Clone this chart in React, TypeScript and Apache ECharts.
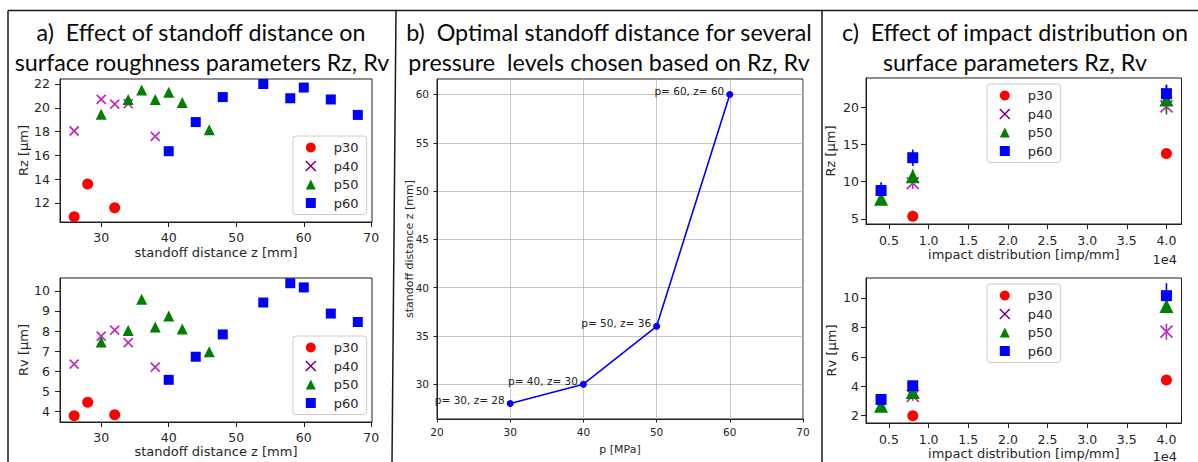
import React, { useEffect, useRef } from "react";
import * as echarts from "echarts";

// ---------- panel a: standoff distance z [mm] vs Rz / Rv [µm] ----------
const p30Z = [26, 28, 32];
const p30Rz = [10.85, 13.6, 11.6];
const p30Rv = [3.78, 4.45, 3.83];
const p40Z = [26, 30, 32, 34, 38];
const p40Rz = [18.05, 20.7, 20.3, 20.35, 17.6];
const p40Rv = [6.35, 7.75, 8.05, 7.42, 6.2];
const p50Z = [30, 34, 36, 38, 40, 42, 46];
const p50Rz = [19.45, 20.7, 21.5, 20.7, 21.3, 20.45, 18.15];
const p50Rv = [7.45, 8.02, 9.58, 8.2, 8.75, 8.1, 6.97];
const p60Z = [40, 44, 48, 54, 58, 60, 64, 68];
const p60Rz = [16.35, 18.8, 20.9, 22.0, 20.8, 21.7, 20.7, 19.4];
const p60Rv = [5.57, 6.72, 7.83, 9.42, 10.38, 10.17, 8.87, 8.45];

// ---------- panel b: optimal standoff distance ----------
const optP = [30, 40, 50, 60];
const optZ = [28, 30, 36, 60];

// ---------- panel c: impact distribution [imp/mm] ----------
const impP30 = [8000, 40000];
const impP30Rz = [5.35, 13.75];
const impP30RzErr = [0.3, 0.3];
const impP30Rv = [2.0, 4.42];
const impP30RvErr = [0.1, 0.2];
const impP40 = [8000, 40000];
const impP40Rz = [9.8, 20.1];
const impP40RzErr = [0.8, 0.6];
const impP40Rv = [3.35, 7.7];
const impP40RvErr = [0.35, 0.55];
const impP50 = [4000, 8000, 40000];
const impP50Rz = [7.7, 10.7, 21.0];
const impP50RzErr = [0.4, 0.9, 2.0];
const impP50Rv = [2.68, 3.6, 9.45];
const impP50RvErr = [0.15, 0.3, 0.4];
const impP60 = [4000, 8000, 40000];
const impP60Rz = [8.8, 13.2, 21.8];
const impP60RzErr = [1.1, 1.1, 1.2];
const impP60Rv = [3.1, 4.03, 10.15];
const impP60RvErr = [0.25, 0.3, 0.85];

// ---------- tick labels ----------
const zTicks = [30, 40, 50, 60, 70];
const rzTicksA = [12, 14, 16, 18, 20, 22];
const rvTicksA = [4, 5, 6, 7, 8, 9, 10];
const pTicksB = [20, 30, 40, 50, 60, 70];
const zTicksB = [30, 35, 40, 45, 50, 55, 60];
const impTicks = [5000, 10000, 15000, 20000, 25000, 30000, 35000, 40000];
const rzTicksC = [5, 10, 15, 20];
const rvTicksC = [2, 4, 6, 8, 10];

const legendNames = ["p30", "p40", "p50", "p60"];

const RED = "#ff0000";
const MAG = "#c030c0";
const PURPLE = "#800080";
const GREEN = "#008000";
const BLUE = "#0000ff";
const X_PATH = "path://M0,0L10,10M10,0L0,10";
const FONT = "DejaVu Sans";
const TXT = "#262626";
const AX = "#1f1f1f";

function mkAxis(gi: number, min: number, max: number, ticks: number[], name: string, o: any) {
  return {
    type: "value",
    gridIndex: gi,
    min,
    max,
    name,
    nameLocation: "middle",
    nameGap: o.nameGap,
    nameMoveOverlap: false,
    nameTextStyle: { fontFamily: FONT, fontSize: o.nameSize, color: TXT },
    axisLine: { show: true, onZero: false, lineStyle: { color: AX, width: 1 } },
    axisTick: { show: true, length: o.tick, customValues: ticks, lineStyle: { color: AX, width: 1 } },
    axisLabel: {
      customValues: ticks,
      margin: o.margin,
      fontFamily: FONT,
      fontSize: o.size,
      color: TXT,
      formatter: o.fmt,
    },
    splitLine: { show: !!o.grid, lineStyle: { color: "#b8b8b8", width: 0.8 } },
  };
}

function scat(name: string, xs: number[], ys: number[], symbol: string, size: number, color: string, idx: number) {
  const isX = symbol === X_PATH;
  return {
    type: "scatter",
    name,
    xAxisIndex: idx,
    yAxisIndex: idx,
    data: xs.map((x, i) => [x, ys[i]]),
    symbol,
    symbolSize: size,
    itemStyle: isX
      ? { color, borderColor: color, borderWidth: 1.8, opacity: 1 }
      : { color, opacity: 1 },
    emphasis: { disabled: true },
    silent: true,
  };
}

function errBars(name: string, xs: number[], ys: number[], errs: number[], color: string, idx: number) {
  return {
    type: "custom",
    name: name + " err",
    xAxisIndex: idx,
    yAxisIndex: idx,
    data: xs.map((x, i) => [x, ys[i] - errs[i], ys[i] + errs[i]]),
    encode: { x: 0, y: [1, 2] },
    silent: true,
    renderItem: (_params: any, api: any) => {
      const a = api.coord([api.value(0), api.value(1)]);
      const b = api.coord([api.value(0), api.value(2)]);
      return {
        type: "line",
        shape: { x1: a[0], y1: a[1], x2: b[0], y2: b[1] },
        style: { stroke: color, lineWidth: 1.6 },
      };
    },
  };
}

const legendItems = [
  { name: "p30", icon: "circle", itemStyle: { color: RED } },
  { name: "p40", icon: X_PATH, itemStyle: { color: PURPLE, borderColor: PURPLE, borderWidth: 1.6 } },
  { name: "p50", icon: "triangle", itemStyle: { color: GREEN } },
  { name: "p60", icon: "rect", itemStyle: { color: BLUE } },
];

function mkLegend(left: number, top: number) {
  return {
    left,
    top,
    orient: "vertical",
    itemWidth: 10,
    itemHeight: 10,
    itemGap: 5.5,
    selectedMode: false,
    backgroundColor: "rgba(255,255,255,0.85)",
    borderColor: "#cccccc",
    borderWidth: 1,
    borderRadius: 3,
    padding: [5, 8, 5, 12],
    textStyle: { fontFamily: FONT, fontSize: 13, color: TXT, padding: [0, 0, 0, 13] },
    data: legendItems.filter((d) => legendNames.includes(d.name)),
  };
}

const fmtImp = (v: number) => (v / 1e4).toFixed(1);

const frame = { stroke: "#1a1a1a", lineWidth: 1.5 };
const TITLE_FONT = "Lato";

function title(x: number, y: number, text: string) {
  return {
    type: "text",
    x,
    y,
    style: {
      text,
      align: "center",
      verticalAlign: "middle",
      fontFamily: TITLE_FONT,
      fontSize: 23.3,
      fill: "#0a0a0a",
    },
    silent: true,
  };
}

const option: any = {
  animation: false,
  backgroundColor: "#ffffff",
  grid: [
    { left: 60, top: 79, width: 312, height: 143 },
    { left: 60, top: 278, width: 312, height: 144 },
    { left: 437, top: 79, width: 366, height: 340 },
    { left: 866, top: 78, width: 315.5, height: 146 },
    { left: 866, top: 278, width: 315.5, height: 145 },
  ].map((g) => ({
    ...g,
    show: true,
    borderColor: AX,
    borderWidth: 1,
    backgroundColor: "transparent",
    containLabel: false,
    outerBoundsMode: "none",
  })),
  xAxis: [
    mkAxis(0, 23.9, 70.1, zTicks, "standoff distance z [mm]", { nameGap: 24, nameSize: 13, tick: 5, margin: 9, size: 12.5 }),
    mkAxis(1, 23.9, 70.1, zTicks, "standoff distance z [mm]", { nameGap: 22.5, nameSize: 13, tick: 5, margin: 8.5, size: 12.5 }),
    mkAxis(2, 20, 70, pTicksB, "p [MPa]", { nameGap: 25, nameSize: 11, tick: 3.5, margin: 7.5, size: 10.5, grid: true }),
    mkAxis(3, 2100, 41900, impTicks, "impact distribution [imp/mm]", { nameGap: 24, nameSize: 13, tick: 5, margin: 10, size: 12.5, fmt: fmtImp }),
    mkAxis(4, 2100, 41900, impTicks, "impact distribution [imp/mm]", { nameGap: 23.5, nameSize: 13, tick: 5, margin: 9.5, size: 12.5, fmt: fmtImp }),
  ],
  yAxis: [
    mkAxis(0, 10.4, 22.42, rzTicksA, "Rz [µm]", { nameGap: 30, nameSize: 13, tick: 5, margin: 10, size: 12.5 }),
    mkAxis(1, 3.47, 10.64, rvTicksA, "Rv [µm]", { nameGap: 30, nameSize: 13, tick: 5, margin: 10, size: 12.5 }),
    mkAxis(2, 26.4, 61.6, zTicksB, "standoff distance z [mm]", { nameGap: 22, nameSize: 11, tick: 3.5, margin: 8, size: 10.5, grid: true }),
    mkAxis(3, 4.3, 23.9, rzTicksC, "Rz [µm]", { nameGap: 29, nameSize: 13, tick: 5, margin: 7, size: 12.5 }),
    mkAxis(4, 1.5, 11.35, rvTicksC, "Rv [µm]", { nameGap: 28, nameSize: 13, tick: 5, margin: 7, size: 12.5 }),
  ],
  legend: [mkLegend(293, 136), mkLegend(293, 336), mkLegend(987, 84), mkLegend(987, 284)],
  series: [
    // panel a top (Rz)
    scat("p30", p30Z, p30Rz, "circle", 11, RED, 0),
    scat("p40", p40Z, p40Rz, X_PATH, 9, MAG, 0),
    scat("p50", p50Z, p50Rz, "triangle", 11, GREEN, 0),
    scat("p60", p60Z, p60Rz, "rect", 10, BLUE, 0),
    // panel a bottom (Rv)
    scat("p30", p30Z, p30Rv, "circle", 11, RED, 1),
    scat("p40", p40Z, p40Rv, X_PATH, 9, MAG, 1),
    scat("p50", p50Z, p50Rv, "triangle", 11, GREEN, 1),
    scat("p60", p60Z, p60Rv, "rect", 10, BLUE, 1),
    // panel b
    {
      type: "line",
      name: "optimal",
      xAxisIndex: 2,
      yAxisIndex: 2,
      data: optP.map((p, i) => [p, optZ[i]]),
      symbol: "circle",
      symbolSize: 7,
      showAllSymbol: true,
      lineStyle: { color: BLUE, width: 1.6 },
      itemStyle: { color: BLUE },
      label: {
        show: true,
        position: "left",
        distance: 2,
        offset: [0, -3.5],
        fontFamily: FONT,
        fontSize: 10.5,
        color: "#222222",
        formatter: (p: any) => `p= ${p.value[0]}, z= ${p.value[1]}`,
      },
      emphasis: { disabled: true },
      silent: true,
    },
    // panel c top (Rz)
    errBars("p30", impP30, impP30Rz, impP30RzErr, RED, 3),
    scat("p30", impP30, impP30Rz, "circle", 11, RED, 3),
    errBars("p40", impP40, impP40Rz, impP40RzErr, MAG, 3),
    scat("p40", impP40, impP40Rz, X_PATH, 12, MAG, 3),
    errBars("p50", impP50, impP50Rz, impP50RzErr, GREEN, 3),
    scat("p50", impP50, impP50Rz, "triangle", 14, GREEN, 3),
    errBars("p60", impP60, impP60Rz, impP60RzErr, BLUE, 3),
    scat("p60", impP60, impP60Rz, "rect", 11, BLUE, 3),
    // panel c bottom (Rv)
    errBars("p30", impP30, impP30Rv, impP30RvErr, RED, 4),
    scat("p30", impP30, impP30Rv, "circle", 11, RED, 4),
    errBars("p40", impP40, impP40Rv, impP40RvErr, MAG, 4),
    scat("p40", impP40, impP40Rv, X_PATH, 12, MAG, 4),
    errBars("p50", impP50, impP50Rv, impP50RvErr, GREEN, 4),
    scat("p50", impP50, impP50Rv, "triangle", 14, GREEN, 4),
    errBars("p60", impP60, impP60Rv, impP60RvErr, BLUE, 4),
    scat("p60", impP60, impP60Rv, "rect", 11, BLUE, 4),
  ],
  graphic: [
    { type: "line", shape: { x1: 8, y1: 10.5, x2: 1198, y2: 10.5 }, style: frame, silent: true },
    { type: "line", shape: { x1: 8, y1: 10.5, x2: 8, y2: 462 }, style: frame, silent: true },
    { type: "line", shape: { x1: 396, y1: 10.5, x2: 392, y2: 462 }, style: frame, silent: true },
    { type: "line", shape: { x1: 822, y1: 10.5, x2: 822, y2: 462 }, style: frame, silent: true },
    title(201, 32, "a)  Effect of standoff distance on"),
    title(202, 62, "surface roughness parameters Rz, Rv"),
    title(609, 32, "b)  Optimal standoff distance for several"),
    title(609, 62, "pressure  levels chosen based on Rz, Rv"),
    title(1015, 32, "c)  Effect of impact distribution on"),
    title(1015, 62, "surface parameters Rz, Rv"),
    {
      type: "text",
      x: 1177,
      y: 259,
      style: { text: "1e4", align: "right", verticalAlign: "middle", fontFamily: FONT, fontSize: 13, fill: TXT },
      silent: true,
    },
    {
      type: "text",
      x: 1177,
      y: 456,
      style: { text: "1e4", align: "right", verticalAlign: "middle", fontFamily: FONT, fontSize: 13, fill: TXT },
      silent: true,
    },
  ],
};

export default function App() {
  const ref = useRef<HTMLDivElement>(null);
  useEffect(() => {
    if (!ref.current) return;
    const chart = echarts.init(ref.current, undefined, { renderer: "svg" });
    chart.setOption(option);
    return () => chart.dispose();
  }, []);
  return (
    <div
      ref={ref}
      style={{ position: "absolute", left: 0, top: 0, width: 1198, height: 462, background: "#ffffff" }}
    />
  );
}
